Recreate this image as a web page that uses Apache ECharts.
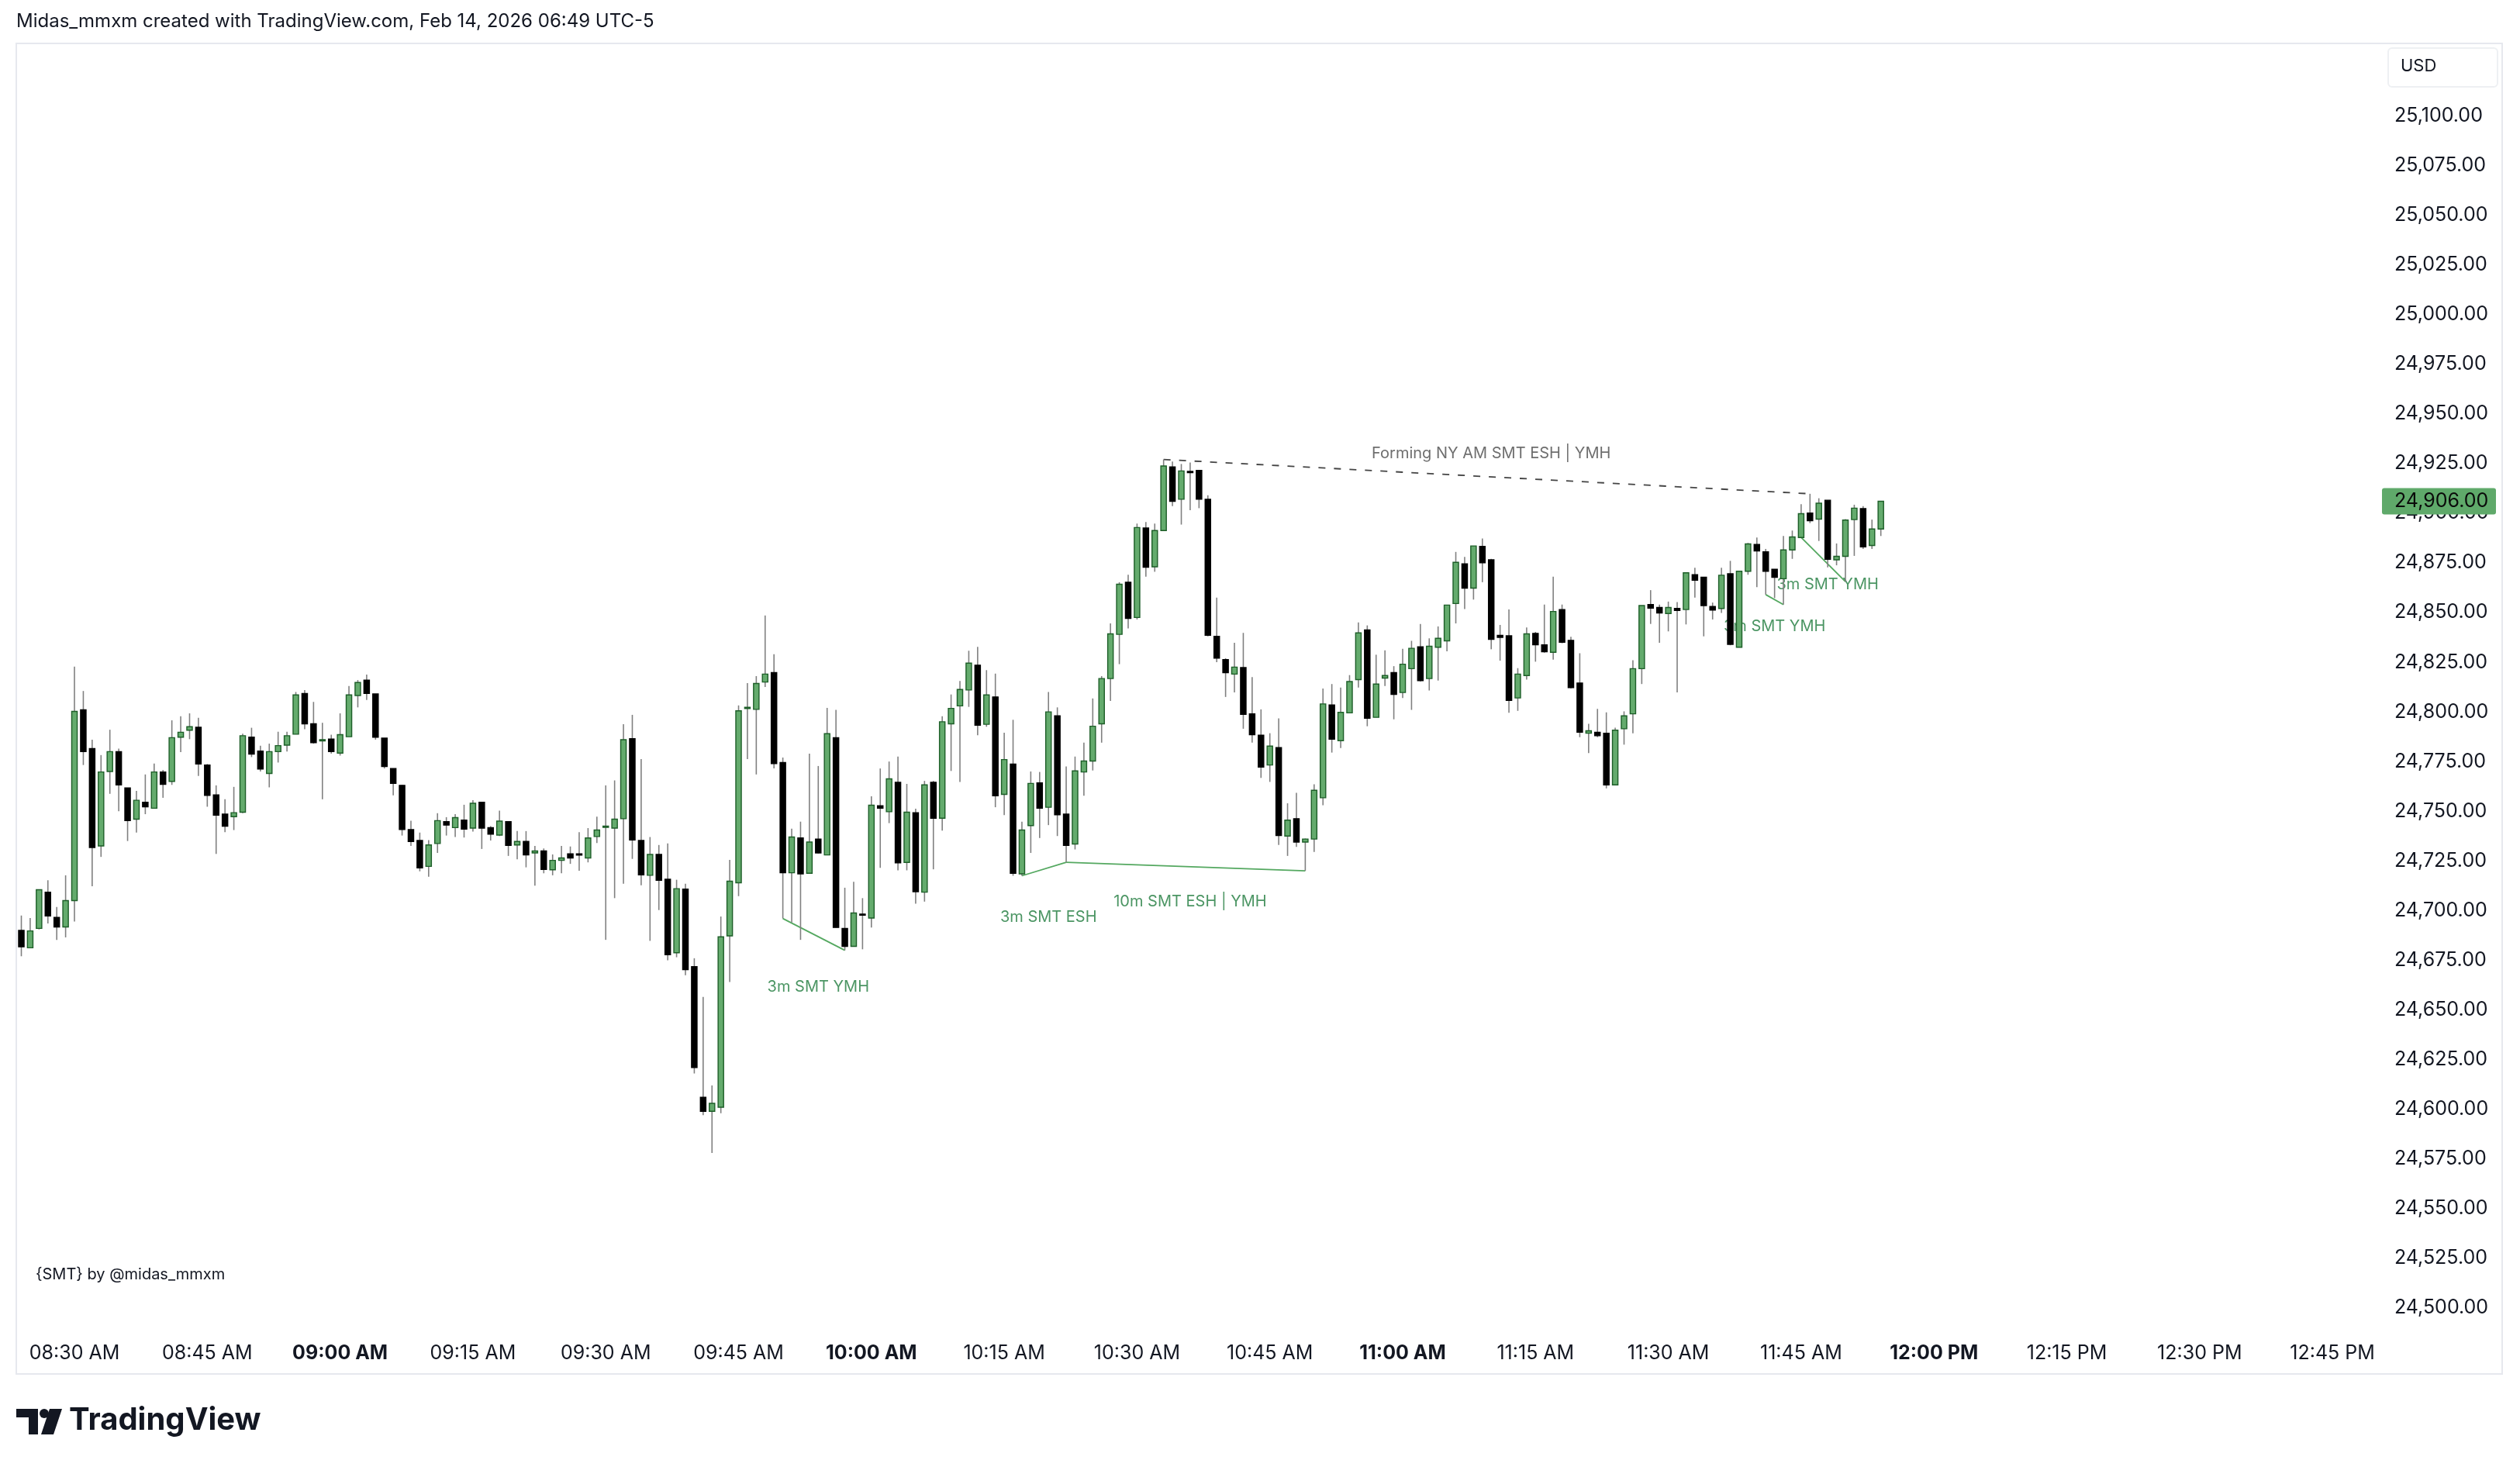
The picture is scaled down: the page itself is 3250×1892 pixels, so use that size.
<!DOCTYPE html>
<html>
<head>
<meta charset="utf-8">
<title>NQ 1m SMT</title>
<script src="https://cdn.jsdelivr.net/npm/echarts@6.0.0/dist/echarts.min.js"></script>
<style>
  html, body { margin: 0; padding: 0; background: #ffffff; }
  #chart { width: 3250px; height: 1892px; }
</style>
</head>
<body>
<div id="chart"></div>
<script>
const FONT = 'Inter, "Noto Sans", Roboto, sans-serif'

// 1 minute bars, first bar at 08:24, axis runs on to 12:50
const firstMinute = 8 * 60 + 24
const slotCount = 267

const opens = [
  24690, 24681.25, 24691, 24709.25, 24696.5, 24691.75, 24705, 24801, 24781.5, 24732.5,
  24770, 24780, 24761.75, 24746, 24754.5, 24751.5, 24769.75, 24765, 24787.25, 24790.75,
  24792.25, 24773.25, 24758.25, 24748.5, 24747.25, 24749.5, 24787.25, 24780.25, 24769, 24780,
  24783.25, 24788.75, 24809.25, 24794, 24785.5, 24786.25, 24779.25, 24787.5, 24808.25, 24816,
  24809, 24786.75, 24771.5, 24763, 24740.75, 24735.25, 24722.25, 24733.75, 24744.75, 24741.75,
  24745.5, 24741.5, 24754.5, 24741.75, 24738, 24744.75, 24733, 24734.75, 24729, 24730,
  24720.5, 24725.25, 24728.5, 24728.5, 24726.5, 24737.25, 24742.25, 24741.5, 24746.25, 24786.5,
  24735.25, 24717.75, 24728.25, 24715.75, 24678.75, 24710.75, 24671.75, 24606, 24599, 24601,
  24687.25, 24714, 24802, 24801.25, 24815, 24819.75, 24774.5, 24719, 24736.5, 24718.75,
  24736, 24728, 24787, 24691, 24682, 24698.25, 24696.25, 24752.75, 24749.75, 24764.5,
  24724.25, 24749.25, 24709.25, 24764.5, 24746.5, 24794, 24803, 24811, 24823.5, 24793.75,
  24807.5, 24758.5, 24773.75, 24718.5, 24742.75, 24764.25, 24752, 24798, 24748.5, 24733.5,
  24769.75, 24775.25, 24794, 24816.75, 24839, 24865.25, 24847.5, 24892.5, 24873, 24891.25,
  24923.25, 24907, 24921, 24921.5, 24907, 24838, 24826.25, 24819, 24822.25, 24799,
  24788.25, 24773.25, 24782, 24737.5, 24746.25, 24734.5, 24736, 24756.75, 24803.5, 24785.5,
  24799.5, 24816.25, 24841.25, 24797.25, 24817, 24819.75, 24809.75, 24821.75, 24832.75, 24816.75,
  24832.5, 24835.75, 24854.5, 24874.5, 24862.25, 24883.25, 24876.5, 24838.5, 24838.25, 24807,
  24818.25, 24839.5, 24833.75, 24830, 24851.5, 24836, 24814.5, 24789.25, 24789.75, 24789.25,
  24763.25, 24791.5, 24799, 24821.75, 24854, 24852.5, 24849.5, 24852, 24851.5, 24869,
  24867.75, 24853, 24852, 24869.5, 24832.5, 24870.75, 24884.25, 24880.5, 24871.75, 24867,
  24881.5, 24887.75, 24900, 24897, 24906.5, 24876.5, 24878.25, 24896.75, 24902.25, 24883.75, 24892
]
const highs = [
  24697.5, 24696.25, 24710.5, 24715.25, 24701.75, 24717.75, 24822.75, 24810.5, 24786, 24778.25,
  24791, 24781.5, 24761.75, 24760.25, 24768.5, 24774, 24770.75, 24795.75, 24797.75, 24799.25,
  24797, 24773.75, 24763, 24756, 24762.25, 24789, 24792, 24783, 24784, 24790,
  24790, 24810, 24811, 24805, 24794.5, 24788.5, 24799.25, 24813, 24816, 24818.75,
  24809, 24786.75, 24771.5, 24763.25, 24745.25, 24739.25, 24735.5, 24749, 24747, 24748.5,
  24753.25, 24755.5, 24754.75, 24742.5, 24750.25, 24744.75, 24740, 24740, 24732.5, 24731.25,
  24728.25, 24732.5, 24732.25, 24739.5, 24741.5, 24747.25, 24763, 24765.5, 24793.75, 24798.5,
  24776.25, 24737, 24733, 24733.75, 24715.5, 24713.5, 24676, 24656.5, 24612, 24697,
  24725.5, 24803.25, 24814.5, 24818, 24848.5, 24829, 24777, 24741.25, 24744.75, 24779,
  24772.75, 24802, 24801, 24711.5, 24714.5, 24706.25, 24757.5, 24771.5, 24775, 24777.5,
  24763.75, 24751.25, 24765.25, 24765.25, 24797.75, 24808.75, 24815.5, 24830.75, 24832.75, 24821,
  24819.25, 24789.5, 24796, 24744.75, 24770, 24769.75, 24810, 24802.25, 24772.5, 24777.5,
  24784.5, 24806.75, 24818, 24844.5, 24865.25, 24869, 24894.75, 24895.5, 24894.75, 24927,
  24926, 24924.75, 24925.5, 24921.5, 24909, 24857.5, 24827, 24834.75, 24839.75, 24817.5,
  24801.25, 24789.25, 24796.75, 24754, 24759.25, 24736.25, 24763.5, 24811.75, 24814, 24812.25,
  24818.5, 24845, 24843.5, 24828.75, 24831, 24823, 24831.75, 24835.75, 24844.25, 24837,
  24843, 24853.75, 24880.5, 24878, 24883.5, 24887.25, 24877, 24843.75, 24851.5, 24822,
  24842.5, 24840.25, 24854, 24868, 24854, 24837.75, 24829.5, 24794, 24801.5, 24799.75,
  24792, 24800.25, 24826, 24853.5, 24861.25, 24854, 24855.5, 24855.25, 24870, 24872.5,
  24867.75, 24855, 24872.5, 24876, 24870.75, 24885, 24887.75, 24882, 24871.75, 24888.5,
  24891.25, 24904.5, 24909.75, 24907.5, 24906.5, 24884.75, 24897, 24904.25, 24903.5, 24896.75, 24906
]
const lows = [
  24677, 24681, 24690.5, 24693.5, 24685.25, 24686.5, 24694.5, 24773.25, 24712.25, 24727,
  24758.75, 24750, 24735, 24739.25, 24748.5, 24751.25, 24756.75, 24763.25, 24779.75, 24786.25,
  24767.75, 24752.25, 24728.5, 24739.5, 24740.5, 24749, 24777.25, 24770, 24762, 24774.5,
  24780, 24788.75, 24791.25, 24784, 24756, 24779, 24778, 24787.5, 24802.25, 24806,
  24786, 24771.5, 24758, 24737.75, 24732.5, 24719.75, 24717, 24729, 24737.75, 24737,
  24736.75, 24739.75, 24731, 24735.25, 24737.5, 24727.5, 24725.75, 24721.75, 24712.5, 24718.75,
  24717.75, 24718.75, 24723.5, 24720, 24724.25, 24734, 24685.25, 24706.25, 24713.5, 24726,
  24712.75, 24684.75, 24700.25, 24675, 24676.5, 24667.5, 24618, 24597, 24578, 24598,
  24664, 24707.25, 24776.25, 24768.5, 24812.5, 24771.5, 24696, 24694, 24685.25, 24718.75,
  24728.75, 24728, 24691.5, 24680, 24682, 24680.5, 24691.5, 24721.5, 24744, 24720.25,
  24720.25, 24703.5, 24704.5, 24720.75, 24740.25, 24770.25, 24764.75, 24802.5, 24788.25, 24792.5,
  24752, 24748, 24717.5, 24717.5, 24729, 24736.5, 24743, 24737.5, 24724.25, 24730.75,
  24757.75, 24770.5, 24784.5, 24805.5, 24824, 24842, 24846.5, 24868, 24870.5, 24891.25,
  24903.5, 24894.25, 24901.5, 24902.5, 24838, 24825, 24807.5, 24809.75, 24791.5, 24784.5,
  24766.75, 24764.75, 24733, 24727.5, 24732, 24720, 24729.5, 24753, 24779.5, 24781.75,
  24799.5, 24812.25, 24792.75, 24797.25, 24813, 24796.25, 24807, 24801, 24815.25, 24810.75,
  24815.75, 24830.5, 24844.5, 24851.75, 24856.5, 24865.25, 24831.5, 24825.75, 24799.5, 24800.5,
  24816.25, 24825.25, 24829.75, 24826.25, 24834.5, 24811.75, 24787.25, 24779.25, 24787.25, 24761.5,
  24763.25, 24783.5, 24789.25, 24814, 24844.25, 24834.75, 24840.5, 24809.75, 24844, 24857.5,
  24838, 24846.5, 24849.75, 24833.5, 24832.5, 24869, 24862.75, 24859, 24857.25, 24854,
  24877, 24887.75, 24895, 24886, 24872.75, 24873.75, 24865.5, 24878.5, 24882, 24882, 24888.5
]
const closes = [
  24681.75, 24689.75, 24710.5, 24697.25, 24691.75, 24705, 24800.25, 24780, 24731.75, 24769.75,
  24780, 24763.25, 24745.25, 24755.5, 24752.25, 24769.75, 24763.5, 24787, 24789.75, 24792.5,
  24773.75, 24758, 24748, 24742.5, 24749.25, 24788, 24778.75, 24771.25, 24780, 24783,
  24788, 24808.5, 24794, 24784.5, 24786, 24780, 24788.5, 24808.5, 24814.75, 24809.25,
  24787.25, 24772.5, 24764, 24740.75, 24734.75, 24721.5, 24733, 24745.25, 24743, 24746.75,
  24741, 24754, 24741.5, 24738.5, 24745, 24732.75, 24734.75, 24728, 24730, 24720.75,
  24725.25, 24726.5, 24726.5, 24728.25, 24736.5, 24740.5, 24742.5, 24746, 24786, 24735.5,
  24718, 24728.25, 24715.25, 24677.75, 24711, 24670.25, 24621, 24599, 24603, 24686.75,
  24714.75, 24800.5, 24802.25, 24814.25, 24819, 24774, 24719, 24737, 24718.5, 24734.5,
  24729, 24789, 24691.5, 24682, 24698.75, 24698, 24753, 24751.5, 24766.25, 24724,
  24749.5, 24709.5, 24763.25, 24746.5, 24795, 24801.75, 24811.25, 24824.5, 24793.25, 24808.5,
  24757.75, 24776, 24718.75, 24740.5, 24764, 24751.5, 24800, 24748.25, 24732.75, 24770.25,
  24775.25, 24792.75, 24816.75, 24839.25, 24864.25, 24847, 24892.75, 24872.75, 24891.25, 24923.75,
  24906, 24921.25, 24920.75, 24907, 24838.5, 24827, 24819.75, 24822.5, 24798.75, 24788.5,
  24772.25, 24782.75, 24737.75, 24745.5, 24734.5, 24736, 24760.5, 24804, 24786.25, 24799.75,
  24815.25, 24839.75, 24796.75, 24814, 24818.25, 24808.75, 24824, 24832, 24815.75, 24833,
  24837, 24853.75, 24875.25, 24862.25, 24883.5, 24875, 24836.5, 24837.5, 24805.75, 24819,
  24839.25, 24833.75, 24830.25, 24850.5, 24835, 24812.25, 24789.75, 24790.5, 24788, 24763.25,
  24790.75, 24798, 24821.75, 24853.5, 24852.25, 24849.75, 24852.5, 24851, 24870, 24866.25,
  24853.5, 24851.25, 24868.75, 24834, 24870.75, 24884.5, 24881, 24870.75, 24867.75, 24881.5,
  24888, 24899.75, 24896.25, 24905, 24876.75, 24878.25, 24896.5, 24902.5, 24883, 24892, 24906
]
const lastPrice = 24906

const priceTicks = [
  24500, 24525, 24550, 24575, 24600, 24625, 24650, 24675, 24700, 24725, 24750, 24775, 24800,
  24825, 24850, 24875, 24900, 24925, 24950, 24975, 25000, 25025, 25050, 25075, 25100
]
const timeTicks = [
  '08:30', '08:45', '09:00', '09:15', '09:30', '09:45', '10:00', '10:15', '10:30', '10:45',
  '11:00', '11:15', '11:30', '11:45', '12:00', '12:15', '12:30', '12:45'
]
const boldTicks = ['09:00', '10:00', '11:00', '12:00']

// SMT links join the lows of two bars
const smtLinks = [
  ['09:50', '09:57'],
  ['10:17', '10:22'],
  ['10:22', '10:49'],
  ['11:41', '11:43'],
  ['11:45', '11:50']
]
const smtTexts = [
  ['09:54', 24661.5, '3m SMT YMH'],
  ['10:20', 24696.5, '3m SMT ESH'],
  ['10:36', 24704.5, '10m SMT ESH | YMH'],
  ['11:42', 24843, '3m SMT YMH'],
  ['11:48', 24864, '3m SMT YMH']
]
// dashed line joins two highs
const formingLink = ['10:33', '11:46']
const formingText = ['11:10', 24930, 'Forming NY AM SMT ESH | YMH']

const categories = []
for ( let k = 0; k < slotCount; k++ ) {
  const m = firstMinute + k
  categories.push( String( Math.floor( m / 60 ) ).padStart( 2, '0' ) + ':' + String( m % 60 ).padStart( 2, '0' ) )
}
const idx = t => categories.indexOf( t )

const candleData = opens.map( ( o, i ) => [i, o, closes[i], lows[i], highs[i]] )

const fmtTime = t => {
  const [h, m] = t.split( ':' ).map( Number )
  const h12 = h > 12 ? h - 12 : h
  return String( h12 ).padStart( 2, '0' ) + ':' + String( m ).padStart( 2, '0' ) + ' ' + ( h >= 12 ? 'PM' : 'AM' )
}
const fmtPrice = v => v.toLocaleString( 'en-US', { minimumFractionDigits : 2, maximumFractionDigits : 2 } )

const UP_FILL = '#64ab6d'
const UP_EDGE = '#1d5e28'
const WICK = '#808080'

const renderCandle = ( params, api ) => {
  const x = api.value( 0 )
  const o = api.value( 1 )
  const c = api.value( 2 )
  const pO = api.coord( [x, o] )
  const pC = api.coord( [x, c] )
  const pL = api.coord( [x, api.value( 3 )] )
  const pH = api.coord( [x, api.value( 4 )] )
  const w = api.size( [1, 0] )[0] * 0.62
  const up = c >= o
  const top = Math.min( pO[1], pC[1] )
  const h = Math.max( Math.abs( pO[1] - pC[1] ), 1.5 )
  return {
    type : 'group',
    children : [
      {
        type : 'line',
        shape : { x1 : pH[0], y1 : pH[1], x2 : pL[0], y2 : pL[1] },
        style : { stroke : WICK, lineWidth : 1.6 }
      },
      {
        type : 'rect',
        shape : { x : pO[0] - w / 2, y : top, width : w, height : h },
        style : { fill : up ? UP_FILL : '#000000', stroke : up ? UP_EDGE : '#000000', lineWidth : 1.4 }
      }
    ]
  }
}

const chart = echarts.init( document.getElementById( 'chart' ) )

chart.setOption( {
  animation : false,
  backgroundColor : '#ffffff',
  grid : {
    left : 21.8,
    right : 179.1,
    top : 56,
    bottom : 180
  },
  xAxis : {
    type : 'category',
    data : categories,
    boundaryGap : true,
    axisLine : { show : false },
    axisTick : { show : false },
    splitLine : { show : false },
    axisLabel : {
      interval : ( i, v ) => timeTicks.includes( v ),
      margin : 21,
      color : '#131722',
      fontSize : 25,
      fontFamily : FONT,
      formatter : v => boldTicks.includes( v ) ? '{b|' + fmtTime( v ) + '}' : fmtTime( v ),
      rich : {
        b : { fontWeight : 'bold', fontSize : 25, color : '#131722', fontFamily : FONT }
      }
    }
  },
  yAxis : {
    type : 'value',
    position : 'right',
    min : 24490.2,
    max : 25136.4,
    axisLine : { show : false },
    axisTick : { show : false },
    splitLine : { show : false },
    axisLabel : {
      customValues : priceTicks,
      margin : 17,
      color : '#131722',
      fontSize : 25,
      fontFamily : FONT,
      formatter : fmtPrice
    }
  },
  series : [
    {
      name : 'smt lines',
      type : 'lines',
      coordinateSystem : 'cartesian2d',
      z : 1,
      silent : true,
      lineStyle : { color : '#54a860', width : 1.8, opacity : 1 },
      data : smtLinks.map( ( [a, b] ) => ( {
        coords : [[idx( a ), lows[idx( a )]], [idx( b ), lows[idx( b )]]]
      } ) ).concat( [{
        coords : [[idx( formingLink[0] ), highs[idx( formingLink[0] )]], [idx( formingLink[1] ), highs[idx( formingLink[1] )]]],
        lineStyle : { color : '#444444', width : 1.8, type : [9, 11] }
      }] )
    },
    {
      name : 'smt text',
      type : 'scatter',
      z : 1,
      silent : true,
      symbolSize : 0.1,
      itemStyle : { color : 'rgba(0,0,0,0)' },
      label : {
        show : true,
        position : 'inside',
        formatter : '{b}',
        color : '#1e7a3c',
        fontSize : 20,
        fontFamily : FONT
      },
      data : smtTexts.map( ( [t, p, s] ) => ( { name : s, value : [idx( t ), p] } ) ).concat( [{
        name : formingText[2],
        value : [idx( formingText[0] ), formingText[1]],
        label : { color : '#4a4a4a' }
      }] )
    },
    {
      name : 'NQ',
      type : 'custom',
      z : 3,
      renderItem : renderCandle,
      encode : { x : 0, y : [1, 2, 3, 4] },
      data : candleData
    }
  ],
  graphic : [
    {
      type : 'text',
      left : 21,
      top : 16,
      style : {
        text : 'Midas_mmxm created with TradingView.com, Feb 14, 2026 06:49 UTC-5',
        fill : '#131722',
        font : '24px ' + FONT
      }
    },
    {
      type : 'rect',
      silent : true,
      z : -1,
      shape : { x : 21, y : 56, width : 3206, height : 1716 },
      style : { fill : 'none', stroke : '#e6e8ee', lineWidth : 2 }
    },
    {
      type : 'rect',
      shape : { x : 3080, y : 62, width : 141, height : 50, r : 5 },
      style : { fill : '#ffffff', stroke : '#eef0f3', lineWidth : 2 }
    },
    {
      type : 'text',
      left : 3096,
      top : 74,
      style : { text : 'USD', fill : '#131722', font : '22px ' + FONT }
    },
    {
      type : 'text',
      left : 46,
      top : 1634,
      style : { text : '{SMT} by @midas_mmxm', fill : '#131722', font : '20px ' + FONT }
    },
    /* TradingView logo */
    {
      type : 'group',
      children : [
        { type : 'rect', shape : { x : 21, y : 1817, width : 28, height : 11 }, style : { fill : '#131722' } },
        { type : 'rect', shape : { x : 37, y : 1817, width : 12, height : 33 }, style : { fill : '#131722' } },
        { type : 'circle', shape : { cx : 57, cy : 1823, r : 6 }, style : { fill : '#131722' } },
        { type : 'polygon', shape : { points : [[64, 1817], [80, 1817], [69, 1850], [53, 1850]] }, style : { fill : '#131722' } }
      ]
    },
    {
      type : 'text',
      left : 89,
      top : 1812,
      style : { text : 'TradingView', fill : '#131722', font : 'bold 40px ' + FONT }
    }
  ]
} )

// last price tag on the price scale, placed through the y axis
const tagY = chart.convertToPixel( { yAxisIndex : 0 }, lastPrice )
chart.setOption( {
  graphic : [
    {
      id : 'lastTag',
      type : 'rect',
      z : 10,
      shape : { x : 3072, y : tagY - 17, width : 147, height : 34, r : 3 },
      style : { fill : '#5fa96a' }
    },
    {
      id : 'lastTagText',
      type : 'text',
      z : 11,
      x : 3088,
      y : tagY,
      style : {
        text : fmtPrice( lastPrice ),
        fill : '#0a0a0a',
        font : '25px ' + FONT,
        verticalAlign : 'middle'
      }
    }
  ]
} )
</script>
</body>
</html>
